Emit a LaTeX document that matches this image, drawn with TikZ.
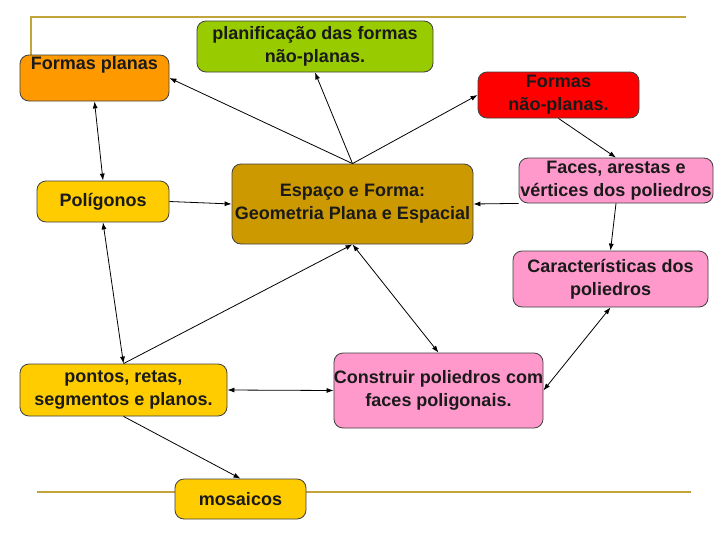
\documentclass[tikz,border=0pt]{standalone}
\usepackage{fontspec}
\setmainfont{Liberation Sans}
\usetikzlibrary{arrows.meta}
\definecolor{GeoGreen}{HTML}{99CC00}
\definecolor{GeoOrange}{HTML}{FF9900}
\definecolor{GeoRed}{HTML}{FF0000}
\definecolor{GeoYellow}{HTML}{FFCC00}
\definecolor{GeoGold}{HTML}{CC9900}
\definecolor{GeoPink}{HTML}{FF99CC}
\definecolor{GeoRule}{HTML}{C2A43A}
\definecolor{GeoText}{HTML}{1A1A1A}

\begin{document}
\begin{tikzpicture}[
  x=1pt,y=-1pt,>=Latex,
  link/.style={-{Latex[length=7pt,width=5pt]},draw=black,line width=0.8pt},
  twoway/.style={{Latex[length=7pt,width=5pt]}-{Latex[length=7pt,width=5pt]},draw=black,line width=0.8pt},
  rule/.style={draw=GeoRule,line width=2.6pt},
  box/.style={draw=black!75,rounded corners=9pt,line width=0.8pt,
    inner sep=0pt,align=center,text=GeoText,
    font=\bfseries\fontsize{18}{23}\selectfont},
  planbox/.style={box,fill=GeoGreen},
  flatbox/.style={box,fill=GeoOrange},
  solidbox/.style={box,fill=GeoRed},
  basebox/.style={box,fill=GeoYellow},
  mainbox/.style={box,fill=GeoGold},
  polybox/.style={box,fill=GeoPink}
]
\useasboundingbox[fill=white] (0,0) rectangle (728,546);

% frame rules
\draw[rule] (31,55) -- (31,17) -- (686,17);
\draw[rule] (37,492) -- (691,492);

\node[planbox,minimum width=236,minimum height=51] (planif) at (315,46.5)
  {planificação das formas\\ não-planas.};
\node[flatbox,minimum width=149,minimum height=46] (planas) at (94.5,78)
  {Formas planas\\ \strut};
\node[solidbox,minimum width=161,minimum height=46] (naoplanas) at (558.5,95)
  {Formas\\ não-planas.};
\node[basebox,minimum width=132,minimum height=41] (poligonos) at (103,201.5)
  {Polígonos};
\node[mainbox,minimum width=241,minimum height=80] (espaco) at (352.5,204)
  {Espaço e Forma:\\ Geometria Plana e Espacial};
\node[polybox,minimum width=194,minimum height=45] (faces) at (616,180.5)
  {Faces, arestas e\\ vértices dos poliedros};
\node[polybox,minimum width=195,minimum height=56] (caract) at (610.5,279)
  {Características dos\\ poliedros};
\node[basebox,minimum width=207,minimum height=52] (pontos) at (123.5,390)
  {pontos, retas,\\ segmentos e planos.};
\node[polybox,minimum width=207,minimum height=75] (construir) at (438.5,390.5)
  {Construir poliedros com\\ faces poligonais.};
\node[basebox,minimum width=131,minimum height=40] (mosaicos) at (240.5,499)
  {mosaicos};

% connectors
\draw[link] (espaco.north) -- (planas.east);
\draw[link] (espaco.north) -- (planif.south);
\draw[link] (espaco.north) -- (naoplanas.west);
\draw[link] (naoplanas.south) -- (faces.north);
\draw[link] (faces.south west) -- (espaco.east);
\draw[link] (faces.south) -- (caract.north);
\draw[twoway] (planas.south) -- (poligonos.north);
\draw[link] (poligonos.east) -- (espaco.west);
\draw[twoway] (poligonos.south) -- (pontos.north);
\draw[link] (pontos.north) -- (espaco.south);
\draw[twoway] (espaco.south) -- (construir.north);
\draw[twoway] (pontos.east) -- (construir.west);
\draw[twoway] (construir.east) -- (caract.south);
\draw[link] (pontos.south) -- (mosaicos.north);

\end{tikzpicture}
\end{document}
